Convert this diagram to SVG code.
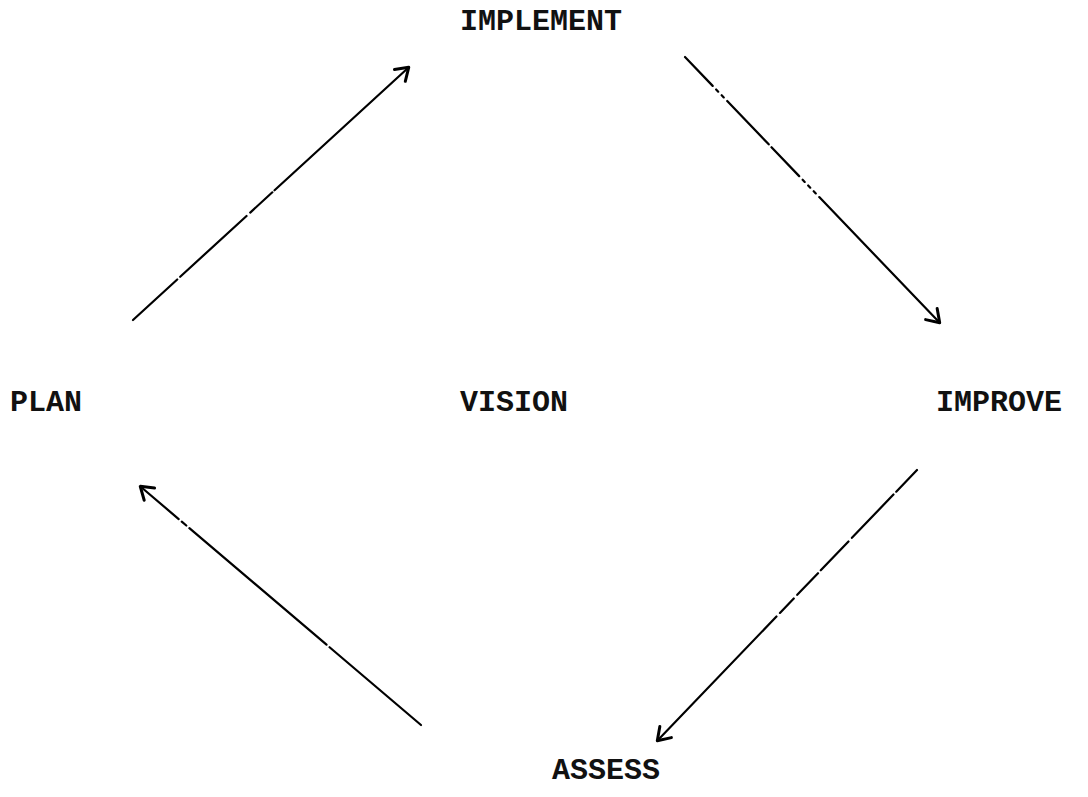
<svg xmlns="http://www.w3.org/2000/svg" width="1088" height="797" viewBox="0 0 1088 797">
<defs>
<style>
.lbl{font-family:"Liberation Mono","Courier New",monospace;font-size:30px;font-weight:bold;fill:#111}
.conn{stroke:#000;stroke-width:2.2;fill:none;stroke-linecap:round}
</style>
<marker id="ah" viewBox="0 0 20 20" refX="14" refY="10" markerWidth="20" markerHeight="20" markerUnits="userSpaceOnUse" orient="auto">
<path d="M3,2 L15,10 L3,18" fill="none" stroke="#000" stroke-width="3" stroke-linecap="round" stroke-linejoin="round"/>
</marker>
</defs>
<rect width="1088" height="797" fill="#fff"/>
<g id="connectors">
<line class="conn" x1="133" y1="320" x2="408" y2="68" stroke-dasharray="60 4 90 5 30 3 200" marker-end="url(#ah)"/>
<line class="conn" x1="685" y1="57" x2="939" y2="322" stroke-dasharray="40 5 3 5 3 5 60 4 40 5 3 5 3 5 3 5 200" marker-end="url(#ah)"/>
<line class="conn" x1="917" y1="470" x2="658" y2="740" stroke-dasharray="30 4 60 5 40 4 30 5 20 5 200" marker-end="url(#ah)"/>
<line class="conn" x1="421" y1="725" x2="141" y2="487" stroke-dasharray="120 4 180 4 6 4 200" marker-end="url(#ah)"/>
</g>
<g id="implement"><text class="lbl" x="460" y="30">IMPLEMENT</text></g>
<g id="plan"><text class="lbl" x="10" y="411">PLAN</text></g>
<g id="vision"><text class="lbl" x="460" y="411">VISION</text></g>
<g id="improve"><text class="lbl" x="936" y="411">IMPROVE</text></g>
<g id="assess"><text class="lbl" x="552" y="779">ASSESS</text></g>
</svg>
